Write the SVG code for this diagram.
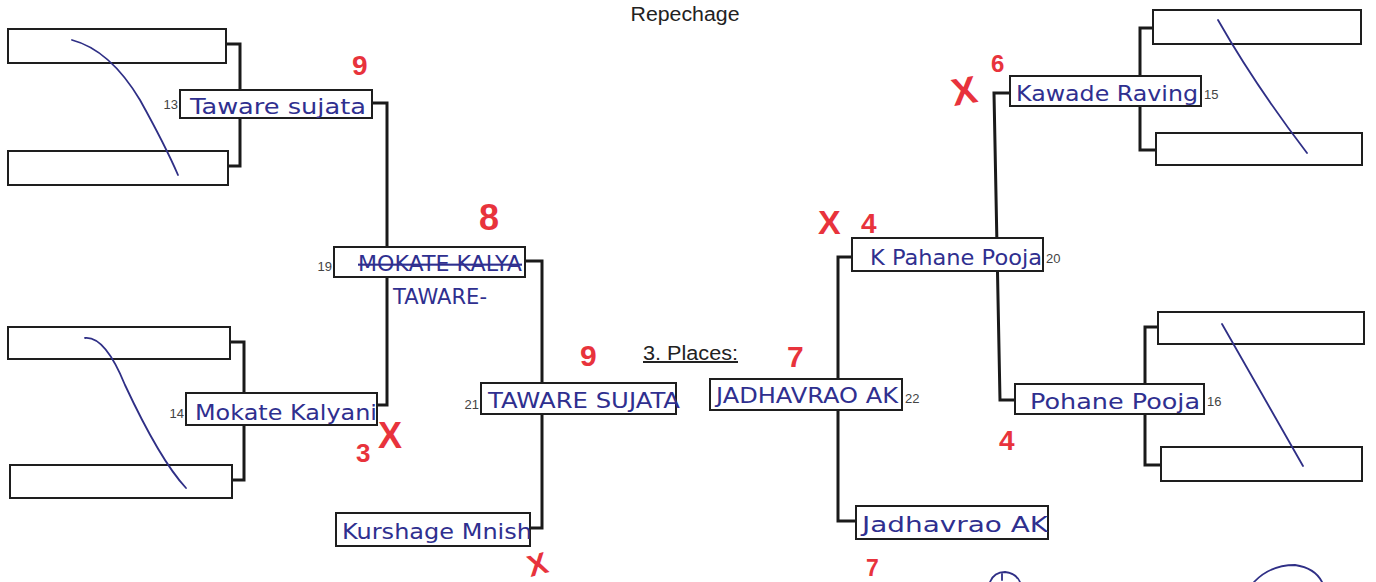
<svg xmlns="http://www.w3.org/2000/svg" width="1376" height="582" viewBox="0 0 1376 582">
<style>
.box{fill:#fff;stroke:#1e1e1e;stroke-width:2}
.conn{fill:none;stroke:#1a1a1a;stroke-width:3}
.pen{fill:none;stroke:#2f2f86;stroke-width:1.8;stroke-linecap:round}
.num{font-family:"Liberation Sans",Arial,sans-serif;font-size:13px;fill:#444}
.hw{font-family:"DejaVu Sans","Liberation Sans",sans-serif;fill:#2f2f8f;font-size:21px}
.red{font-family:"Liberation Sans",Arial,sans-serif;font-weight:bold;fill:#e8333c}
.title{font-family:"Liberation Sans",Arial,sans-serif;font-size:20px;fill:#222}
</style>
<rect width="1376" height="582" fill="#fff"/>
<text class="title" x="685" y="21" text-anchor="middle" textLength="109" lengthAdjust="spacingAndGlyphs">Repechage</text>
<text class="title" x="643" y="360" text-decoration="underline" textLength="95" lengthAdjust="spacingAndGlyphs">3. Places:</text>

<g id="connectors">
<path class="conn" d="M226,44 H240 V166 H228"/>
<path class="conn" d="M230,342 H244 V480 H232"/>
<path class="conn" d="M372,103 H387 V405 H377"/>
<path class="conn" d="M525,261 H542 V528 H530"/>
<path class="conn" d="M852,257 H838 V521 H856"/>
<path class="conn" d="M1010,93 H994 L1000,400 H1015"/>
<path class="conn" d="M1153,28 H1140 V150 H1156"/>
<path class="conn" d="M1158,327 H1145 V465 H1161"/>
</g>

<g id="n-l1"><rect class="box" x="8" y="29" width="218" height="34"/></g>
<g id="n-l2"><rect class="box" x="8" y="151" width="220" height="34"/></g>
<g id="n-l3"><rect class="box" x="8" y="327" width="222" height="32"/></g>
<g id="n-l4"><rect class="box" x="10" y="465" width="222" height="33"/></g>
<g id="n-r1"><rect class="box" x="1153" y="10" width="208" height="34"/></g>
<g id="n-r2"><rect class="box" x="1156" y="133" width="206" height="32"/></g>
<g id="n-r3"><rect class="box" x="1158" y="312" width="206" height="32"/></g>
<g id="n-r4"><rect class="box" x="1161" y="447" width="201" height="34"/></g>

<g id="n13"><rect class="box" x="180" y="90" width="192" height="28"/>
<text class="num" x="178" y="109" text-anchor="end">13</text>
<text class="hw" x="190" y="114" textLength="176" lengthAdjust="spacingAndGlyphs">Taware sujata</text></g>

<g id="n14"><rect class="box" x="186" y="393" width="191" height="32"/>
<text class="num" x="184" y="418" text-anchor="end">14</text>
<text class="hw" x="195" y="420" textLength="182" lengthAdjust="spacingAndGlyphs">Mokate Kalyani</text></g>

<g id="n19"><rect class="box" x="334" y="247" width="191" height="30"/>
<text class="num" x="332" y="271" text-anchor="end">19</text>
<text class="hw" x="358" y="271" textLength="164" lengthAdjust="spacingAndGlyphs" text-decoration="line-through">MOKATE KALYA</text>
<text class="hw" x="393" y="304" font-size="19" textLength="94" lengthAdjust="spacingAndGlyphs">TAWARE-</text></g>

<g id="n-kurshage"><rect class="box" x="336" y="513" width="194" height="33"/>
<text class="hw" x="342" y="539" textLength="190" lengthAdjust="spacingAndGlyphs">Kurshage Mnish</text></g>

<g id="n21"><rect class="box" x="481" y="383" width="195" height="31"/>
<text class="num" x="479" y="409" text-anchor="end">21</text>
<text class="hw" x="488" y="408" textLength="192" lengthAdjust="spacingAndGlyphs">TAWARE SUJATA</text></g>

<g id="n22"><rect class="box" x="710" y="379" width="192" height="31"/>
<text class="num" x="905" y="403">22</text>
<text class="hw" x="716" y="403" textLength="182" lengthAdjust="spacingAndGlyphs">JADHAVRAO AK</text></g>

<g id="n-jadhavrao"><rect class="box" x="856" y="506" width="192" height="33"/>
<text class="hw" x="862" y="532" textLength="186" lengthAdjust="spacingAndGlyphs">Jadhavrao AK</text></g>

<g id="n20"><rect class="box" x="852" y="238" width="191" height="33"/>
<text class="num" x="1046" y="263">20</text>
<text class="hw" x="870" y="265" textLength="172" lengthAdjust="spacingAndGlyphs">K Pahane Pooja</text></g>

<g id="n15"><rect class="box" x="1010" y="76" width="191" height="30"/>
<text class="num" x="1204" y="99">15</text>
<text class="hw" x="1016" y="101" textLength="182" lengthAdjust="spacingAndGlyphs">Kawade Raving</text></g>

<g id="n16"><rect class="box" x="1015" y="384" width="189" height="30"/>
<text class="num" x="1207" y="406">16</text>
<text class="hw" x="1030" y="409" textLength="170" lengthAdjust="spacingAndGlyphs">Pohane Pooja</text></g>

<g id="pen-strokes">
<path class="pen" d="M72,40 Q110,50 140,100 Q165,145 178,175"/>
<path class="pen" d="M85,338 Q105,336 125,385 Q160,460 186,488"/>
<path class="pen" d="M1218,20 Q1255,85 1307,153"/>
<path class="pen" d="M1222,324 Q1265,400 1303,466"/>
<path class="pen" d="M990,582 Q994,572 1005,572 Q1016,573 1020,582"/>
<path class="pen" d="M1002,574 V580"/>
<path class="pen" d="M1254,582 Q1270,565 1295,565 Q1315,568 1322,582"/>
</g>

<g id="red-marks">
<text class="red" x="352" y="75" font-size="28">9</text>
<text class="red" x="479" y="230" font-size="36">8</text>
<text class="red" x="356" y="462" font-size="26">3</text>
<text class="red" x="378" y="448" font-size="36">X</text>
<text class="red" x="526" y="574" font-size="30" transform="rotate(-15 540 558)">X</text>
<text class="red" x="580" y="366" font-size="30">9</text>
<text class="red" x="787" y="367" font-size="30">7</text>
<text class="red" x="818" y="234" font-size="34">X</text>
<text class="red" x="861" y="233" font-size="28">4</text>
<text class="red" x="951" y="103" font-size="38" transform="rotate(-10 970 88)">X</text>
<text class="red" x="991" y="72" font-size="24">6</text>
<text class="red" x="999" y="450" font-size="28">4</text>
<text class="red" x="866" y="576" font-size="23">7</text>
</g>
</svg>
